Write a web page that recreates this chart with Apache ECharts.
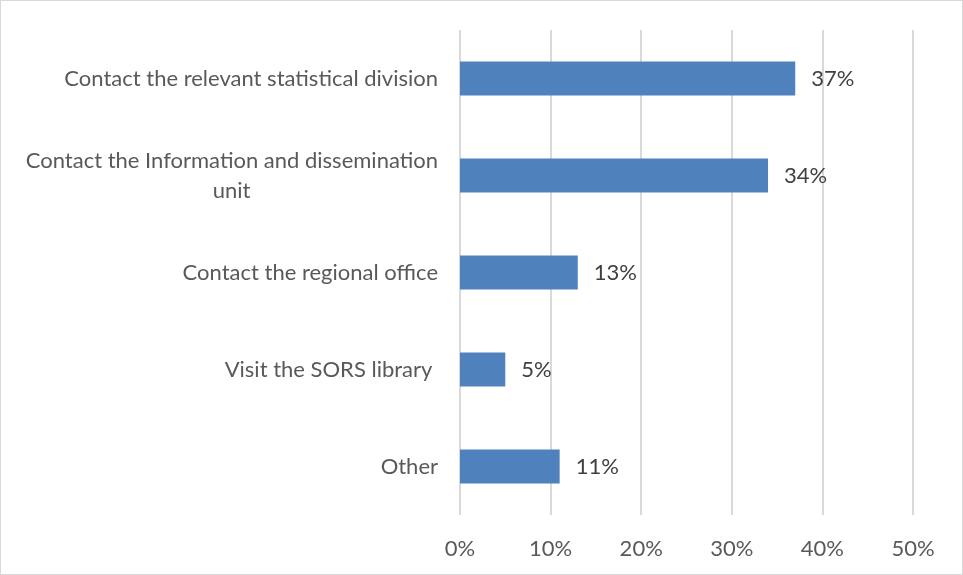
<!DOCTYPE html>
<html>
<head>
<meta charset="utf-8">
<script src="https://cdn.jsdelivr.net/npm/echarts@6/dist/echarts.min.js"></script>
<style>
    html, body { margin: 0; padding: 0; background: #fff; }
    #chart { width: 963px; height: 575px; box-sizing: border-box; border: 1px solid #d9d9d9; }
</style>
</head>
<body>
<div id="chart"></div>
<script>
    // categories, top to bottom as in the picture
    var categories = [
        'Contact the relevant statistical division',
        'Contact the Information and dissemination\nunit',
        'Contact the regional office',
        'Visit the SORS library ',
        'Other'
    ];
    var shares = [37, 34, 13, 5, 11];
    var tickLabels = ['0%', '10%', '20%', '30%', '40%', '50%'];

    var FONT = 'Lato';
    var FSIZE = 22;

    // width of the first line of the wrapped label, so the second line can be centred under it
    var ctx = document.createElement('canvas').getContext('2d');
    ctx.font = FSIZE + 'px ' + FONT;
    var wrapW = Math.ceil(ctx.measureText('Contact the Information and dissemination').width);

    var chart = echarts.init(document.getElementById('chart'));
    chart.setOption({
        animation: false,
        grid: { left: 459, right: 49, top: 29, bottom: 59 },
        xAxis: {
            type: 'value',
            min: 0,
            max: 50,
            interval: 10,
            axisLine: { show: false },
            axisTick: { show: false },
            splitLine: { lineStyle: { color: '#d9d9d9', width: 2 } },
            axisLabel: {
                color: '#595959',
                fontFamily: FONT,
                fontSize: FSIZE,
                margin: 23,
                formatter: function (v) { return tickLabels[v / 10]; }
            }
        },
        yAxis: {
            type: 'category',
            inverse: true,
            data: categories,
            axisLine: { show: false },
            axisTick: { show: false },
            axisLabel: {
                color: '#595959',
                fontFamily: FONT,
                fontSize: FSIZE,
                margin: 22,
                lineHeight: 30,
                formatter: function (v) {
                    var parts = v.split('\n');
                    if (parts.length === 1) return v;
                    return parts[0] + '\n{c|' + parts[1] + '}';
                },
                rich: {
                    c: { width: wrapW, align: 'center', color: '#595959', fontFamily: FONT, fontSize: FSIZE, lineHeight: 30 }
                }
            }
        },
        series: [{
            type: 'bar',
            data: shares,
            barWidth: 34,
            itemStyle: { color: '#4f81bd' },
            label: {
                show: true,
                position: 'right',
                distance: 16,
                color: '#404040',
                fontFamily: FONT,
                fontSize: FSIZE,
                formatter: '{c}%'
            }
        }]
    });
</script>
</body>
</html>
